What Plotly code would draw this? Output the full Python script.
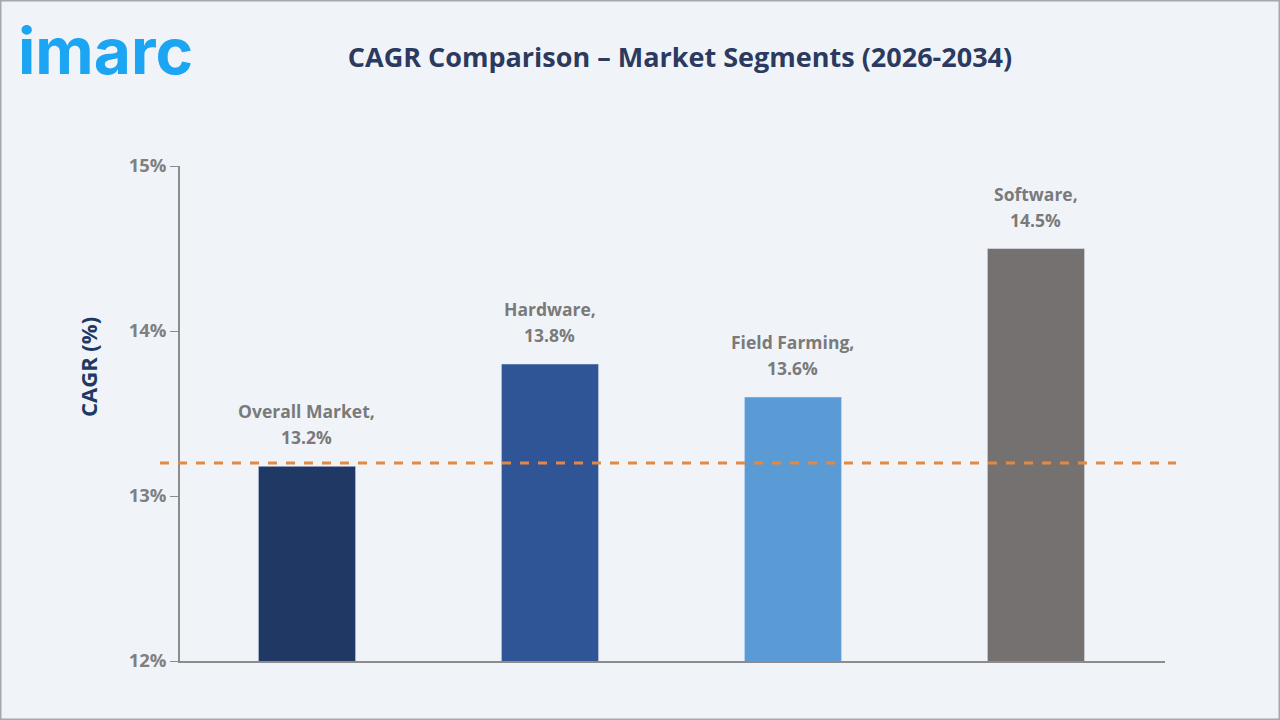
import plotly.graph_objects as go

categories = ["Overall Market", "Hardware", "Field Farming", "Software"]
cagr_values = [13.18, 13.8, 13.6, 14.5]
label_values = ["13.2%", "13.8%", "13.6%", "14.5%"]
bar_colors = ["#1f3864", "#2f5597", "#5b9bd5", "#767171"]
overall_cagr = 13.2
y_ticks = [12, 13, 14, 15]
y_tick_labels = ["12%", "13%", "14%", "15%"]

W, H = 1280, 720
L, R, T, B = 180, 115, 166, 59
pw, ph = W - L - R, H - T - B

fig = go.Figure()
fig.add_trace(go.Bar(
    x=categories, y=cagr_values, marker_color=bar_colors,
    width=0.4, hoverinfo="skip", showlegend=False,
))

label_font = dict(family="Open Sans, sans-serif", size=17.5, color="#7a7a7a")
for c, v, lab in zip(categories, cagr_values, label_values):
    fig.add_annotation(x=c, y=v, text=f"<b>{lab}</b>", showarrow=False,
                       yanchor="bottom", yshift=15, font=label_font)
    fig.add_annotation(x=c, y=v, text=f"<b>{c},</b>", showarrow=False,
                       yanchor="bottom", yshift=41, font=label_font)

# Dashed overall-market reference line
fig.add_shape(type="line", xref="paper", yref="y",
              x0=(160 - L) / pw, x1=(1176 - L) / pw, y0=overall_cagr, y1=overall_cagr,
              line=dict(color="#e08a45", width=3, dash="dash"))

# outer border
fig.add_shape(type="rect", xref="paper", yref="paper",
              x0=(0.5 - L) / pw, x1=(W - 0.5 - L) / pw,
              y0=-(B - 0.5) / ph, y1=1 + (T - 0.5) / ph,
              line=dict(color="#a6a6ae", width=2), fillcolor="rgba(0,0,0,0)", layer="below")

# logo
fig.add_annotation(xref="paper", yref="paper",
                   x=(16 - L) / pw, y=1 + (T - 10) / ph, xanchor="left", yanchor="top",
                   text="<b>imarc</b>", showarrow=False,
                   font=dict(family="Inter, Lato, sans-serif", size=64, color="#1ca5f2"))

# y-axis title
fig.add_annotation(xref="paper", yref="paper",
                   x=(88 - L) / pw, y=1 - (367 - T) / ph, xanchor="center", yanchor="middle",
                   text="<b>CAGR (%)</b>", textangle=-90, showarrow=False,
                   font=dict(family="Open Sans, sans-serif", size=22, color="#1f3864"))

fig.update_layout(
    width=W, height=H,
    margin=dict(l=L, r=R, t=T, b=B),
    paper_bgcolor="#f0f4f9", plot_bgcolor="#f0f4f9",
    title=dict(text="<b>CAGR Comparison – Market Segments (2026-2034)</b>",
               x=680 / W, xanchor="center", y=1 - 58 / H, yanchor="middle",
               font=dict(family="Open Sans, sans-serif", size=27, color="#2b3a5e")),
)
fig.update_xaxes(range=[-0.5226, 3.531], showticklabels=False, showline=True,
                 linecolor="#8c8c8c", linewidth=1.5,
                 ticks="", showgrid=False, zeroline=False)
fig.update_yaxes(range=[12, 15], tickvals=y_ticks, ticktext=[f"<b>{t}</b>" for t in y_tick_labels],
                 showline=True, linecolor="#8c8c8c", linewidth=1.5,
                 ticks="outside", ticklen=8, tickcolor="#8c8c8c", showgrid=False, zeroline=False,
                 tickfont=dict(family="Open Sans, sans-serif", size=18.5, color="#808080"))

fig.write_html("out.html")
